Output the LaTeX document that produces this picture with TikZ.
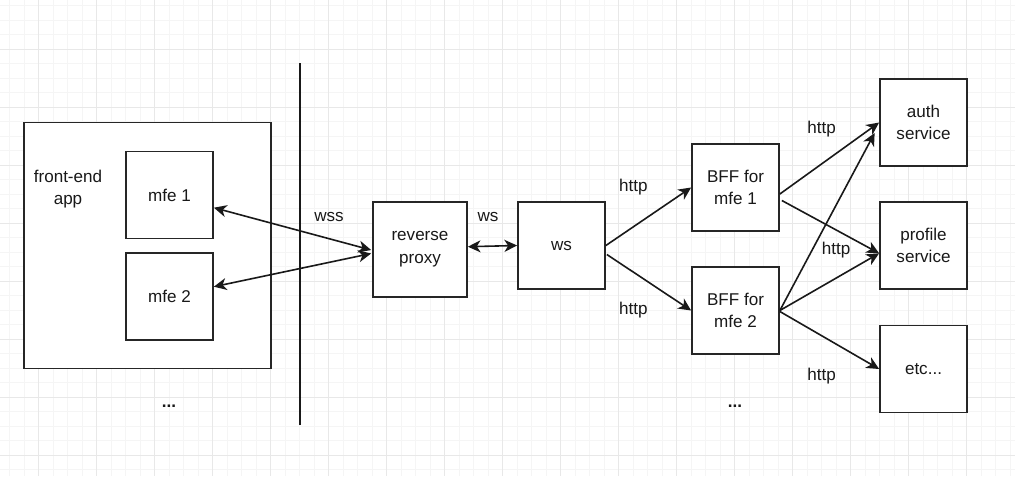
\documentclass[tikz,border=0pt]{standalone}
\usepackage{fontspec}
\setmainfont{Liberation Sans}
\usetikzlibrary{arrows.meta,calc}
\begin{document}
\begin{tikzpicture}[x=0.75pt,y=-0.75pt,
  every node/.style={font=\fontsize{12.8pt}{17pt}\selectfont, text=black!90},
  box/.style={draw=black!85, line width=1.3pt, minimum width=65.25pt, minimum height=65.25pt, inner sep=0pt, align=center, fill=white},
  lbl/.style={inner sep=0pt, align=center},
  conn/.style={line width=1.2pt, draw=black!90, -{Stealth[length=9.5pt,width=9pt,inset=2.8pt]}},
  conn2/.style={line width=1.2pt, draw=black!90, {Stealth[length=9.5pt,width=9pt,inset=2.8pt]}-{Stealth[length=9.5pt,width=9pt,inset=2.8pt]}},
  minorgrid/.style={draw=black!4, line width=0.6pt},
  majorgrid/.style={draw=black!9, line width=0.6pt}]
\useasboundingbox (0,0) rectangle (1015,476);
\fill[white] (0,0) rectangle (1015,476);
% grid
\foreach \i in {0,...,70} {
  \pgfmathsetmacro{\gx}{-5+14.5*\i}
  \draw[minorgrid] (\gx,0) -- (\gx,476);
}
\foreach \i in {0,...,33} {
  \pgfmathsetmacro{\gy}{5.8+14.5*\i}
  \draw[minorgrid] (0,\gy) -- (1015,\gy);
}
\foreach \i in {0,...,17} {
  \pgfmathsetmacro{\gx}{-19.5+58*\i}
  \draw[majorgrid] (\gx,0) -- (\gx,476);
}
\foreach \i in {0,...,8} {
  \pgfmathsetmacro{\gy}{-8.7+58*\i}
  \draw[majorgrid] (0,\gy) -- (1015,\gy);
}
% front-end app
\node[box, minimum width=185.25pt, minimum height=184.5pt] (app) at (147.5,245.5) {};
\node[lbl] (applbl) at (68,189) {front-end\\app};
\node[box] (mfe1) at (169.5,195) {mfe 1};
\node[box] (mfe2) at (169.5,296.5) {mfe 2};
\node[lbl] (dots1) at (169,406) {\textbf{...}};
% separator
\coordinate (septop) at (300,63);
\coordinate (sepbot) at (300,425);
\draw[line width=1.2pt, draw=black!90] (septop) -- (sepbot);
% middle
\node[box, minimum width=70.5pt, minimum height=71.25pt] (rp) at (420,249.5) {reverse\\proxy};
\node[box] (ws) at (561.5,245.5) {ws};
% BFFs
\node[box] (bff1) at (735.5,187.5) {BFF for\\mfe 1};
\node[box] (bff2) at (735.5,310.5) {BFF for\\mfe 2};
\node[lbl] (dots2) at (735,406) {\textbf{...}};
% services
\node[box] (auth) at (923.5,122.5) {auth\\service};
\node[box] (prof) at (923.5,245.5) {profile\\service};
\node[box] (etc) at (923.5,369) {etc...};
% connectors
\draw[conn2] ($(mfe1.east)+(0,12.7)$) -- ($(rp.west)+(-1,0.5)$);
\draw[conn2] ($(mfe2.east)+(0,-9.8)$) -- ($(rp.west)+(-1,4)$);
\draw[conn2] ($(rp.east)+(0,-2.8)$) -- ($(ws.west)+(0,0)$);
\draw[conn] (ws.east) -- (bff1.west);
\draw[conn] ($(ws.east)+(1,9)$) -- (bff2.west);
\draw[conn] ($(bff1.east)+(0,6.5)$) -- (auth.west);
\draw[conn] ($(bff1.east)+(2,13)$) -- ($(prof.west)+(0,7.8)$);
\draw[conn] (bff2.east) -- ($(auth.west)+(-4.5,10.5)$);
\draw[conn] (bff2.east) -- ($(prof.west)+(0,7.8)$);
\draw[conn] ($(bff2.east)+(0,1)$) -- (etc.west);
% labels
\node[lbl] (lwss) at (329,216.7) {wss};
\node[lbl] (lws) at (488,216.7) {ws};
\node[lbl] (lh1) at (633.3,187.3) {http};
\node[lbl] (lh2) at (633.3,310) {http};
\node[lbl] (lh3) at (821.7,129.3) {http};
\node[lbl] (lh4) at (836,250) {http};
\node[lbl] (lh5) at (821.7,376) {http};
\end{tikzpicture}
\end{document}
